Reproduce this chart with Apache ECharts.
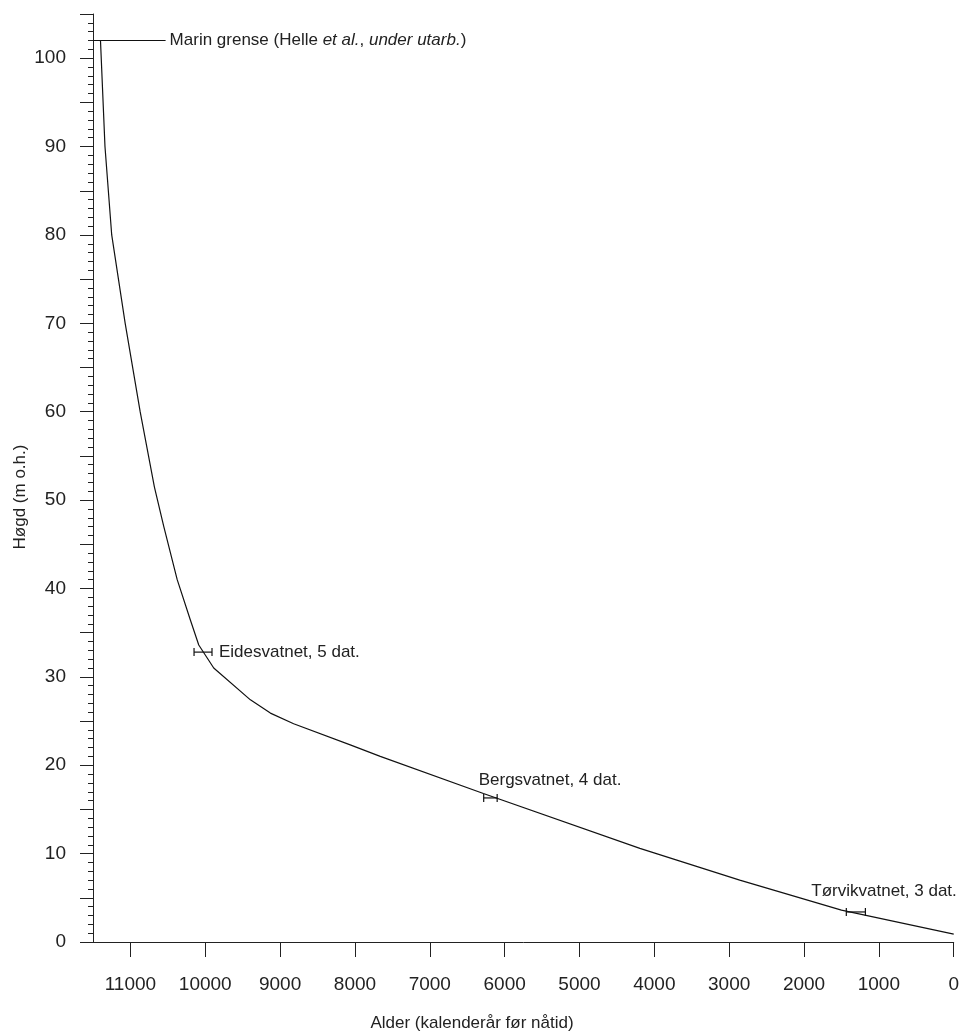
<!DOCTYPE html>
<html>
<head>
<meta charset="utf-8">
<script src="https://cdn.jsdelivr.net/npm/echarts@6/dist/echarts.min.js"></script>
<style>
html,body{margin:0;padding:0;background:#fff;}
#chart{width:962px;height:1034px;}
</style>
</head>
<body>
<div id="chart"></div>
<script>
// Shoreline displacement curve (age in calendar years BP, height in m a.s.l.)
const curveAges    = [11400, 11340, 11250, 11070, 10870, 10680, 10554, 10375, 10198, 10087, 9887, 9397, 9130, 8819, 8063, 7662, 6284, 4193, 2859, 1500, 0];
const curveHeights = [102.0, 90.0, 80.0, 70.0, 60.0, 51.5, 47.0, 41.0, 36.4, 33.6, 31.0, 27.4, 25.9, 24.7, 22.3, 21.0, 16.8, 10.6, 7.0, 3.6, 0.9];

// Dated basins (age range and height)
const siteNames   = ['Eidesvatnet, 5 dat.', 'Bergsvatnet, 4 dat.', 'Tørvikvatnet, 3 dat.'];
const siteAgeMin  = [9910, 6100, 1180];
const siteAgeMax  = [10150, 6280, 1435];
const siteHeights = [32.8, 16.3, 3.4];

// Marine limit
const marineLimitHeight = 102;
const marineLimitAges = [11500, 10530];

// Axes
const xTicks = [0, 1000, 2000, 3000, 4000, 5000, 6000, 7000, 8000, 9000, 10000, 11000];
const xMin = 0, xMax = 11500;
const yMin = 0, yMax = 105;
const yLabelTicks = [0, 10, 20, 30, 40, 50, 60, 70, 80, 90, 100];

const FONT = '"Liberation Sans", Arial, Helvetica, sans-serif';
const INK = '#222';

const chart = echarts.init(document.getElementById('chart'), null, {renderer: 'canvas'});

// label placement relative to the error bar (px), styling only
const labelPlace = [
  {anchor: 'right', dx: 7, dy: 0},
  {anchor: 'left', dx: -5, dy: -18},
  {anchor: 'left', dx: -35, dy: -21}
];

const curveData = curveAges.map((a, i) => [a, curveHeights[i]]);
const siteData = siteNames.map((n, i) => [siteAgeMin[i], siteAgeMax[i], siteHeights[i]]);
const lineStyleInk = {stroke: '#111', lineWidth: 1.2};

chart.setOption({
  animation: false,
  backgroundColor: '#fff',
  grid: {left: 93, right: 8, top: 14, bottom: 92, containLabel: false},
  xAxis: {
    type: 'value', min: xMin, max: xMax, inverse: true,
    axisLine: {show: true, onZero: false, lineStyle: {color: INK, width: 1}},
    axisTick: {show: true, length: 15, inside: false, customValues: xTicks, lineStyle: {color: INK, width: 1}},
    axisLabel: {show: true, customValues: xTicks, margin: 33, fontFamily: FONT, fontSize: 19, color: INK,
      formatter: v => String(v)},
    splitLine: {show: false}
  },
  yAxis: {
    type: 'value', min: yMin, max: yMax, interval: 5,
    axisLine: {show: true, onZero: false, lineStyle: {color: INK, width: 1}},
    axisTick: {show: true, length: 13, lineStyle: {color: INK, width: 1}},
    minorTick: {show: true, splitNumber: 5, length: 5, lineStyle: {color: INK, width: 1}},
    axisLabel: {show: true, customValues: yLabelTicks, margin: 27, fontFamily: FONT, fontSize: 19, color: INK,
      formatter: v => String(v)},
    splitLine: {show: false}, minorSplitLine: {show: false}
  },
  graphic: [
    {type: 'text', x: 472, y: 1023, style: {text: 'Alder (kalenderår før nåtid)', font: '17px ' + FONT, fill: INK, textAlign: 'center', textVerticalAlign: 'middle'}},
    {type: 'text', x: 20, y: 497, rotation: Math.PI / 2, style: {text: 'Høgd (m o.h.)', font: '17px ' + FONT, fill: INK, textAlign: 'center', textVerticalAlign: 'middle'}}
  ],
  series: [
    {
      type: 'line', data: curveData, showSymbol: false, smooth: false,
      lineStyle: {color: '#111', width: 1.2}, z: 3
    },
    {
      type: 'custom', data: [[marineLimitAges[0], marineLimitAges[1], marineLimitHeight]], z: 4,
      renderItem: function (params, api) {
        const p1 = api.coord([api.value(0), api.value(2)]);
        const p2 = api.coord([api.value(1), api.value(2)]);
        const xl = Math.min(p1[0], p2[0]), xr = Math.max(p1[0], p2[0]), y = p1[1];
        return {
          type: 'group',
          children: [
            {type: 'line', shape: {x1: xl, y1: y, x2: xr, y2: y}, style: lineStyleInk},
            {type: 'text', x: xr + 4, y: y, style: {
              text: 'Marin grense (Helle {i|et al.}, {i|under utarb.})',
              font: '17px ' + FONT, fill: INK, textAlign: 'left', textVerticalAlign: 'middle',
              rich: {i: {fontStyle: 'italic', fontFamily: FONT, fontSize: 17, fill: INK}}
            }}
          ]
        };
      }
    },
    {
      type: 'custom', data: siteData, z: 4,
      renderItem: function (params, api) {
        const i = params.dataIndex;
        const p1 = api.coord([api.value(0), api.value(2)]);
        const p2 = api.coord([api.value(1), api.value(2)]);
        const xl = Math.min(p1[0], p2[0]), xr = Math.max(p1[0], p2[0]), y = p1[1];
        const cap = 4;
        const pl = labelPlace[i];
        const tx = (pl.anchor === 'right' ? xr : xl) + pl.dx;
        return {
          type: 'group',
          children: [
            {type: 'line', shape: {x1: xl, y1: y, x2: xr, y2: y}, style: lineStyleInk},
            {type: 'line', shape: {x1: xl, y1: y - cap, x2: xl, y2: y + cap}, style: lineStyleInk},
            {type: 'line', shape: {x1: xr, y1: y - cap, x2: xr, y2: y + cap}, style: lineStyleInk},
            {type: 'text', x: tx, y: y + pl.dy, style: {text: siteNames[i], font: '17px ' + FONT, fill: INK, textAlign: 'left', textVerticalAlign: 'middle'}}
          ]
        };
      }
    }
  ]
});
</script>
</body>
</html>
